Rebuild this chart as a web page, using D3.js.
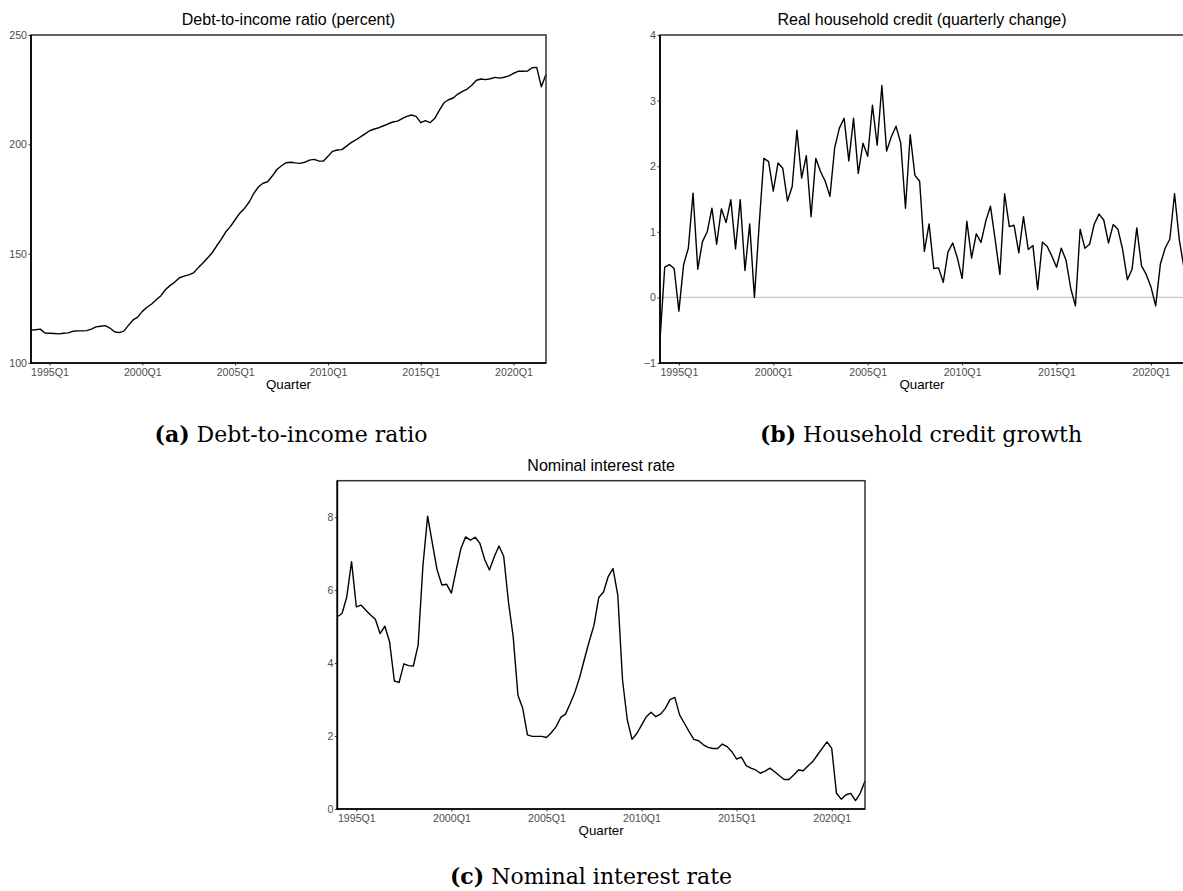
<!DOCTYPE html>
<html>
<head>
<meta charset="utf-8">
<script src="https://cdn.jsdelivr.net/npm/d3@7"></script>
<style>
  body { margin: 0; background: #fff; }
  svg { display: block; }
  .tick text { font-family: "Liberation Sans", Arial, sans-serif; }
</style>
</head>
<body>
<svg id="chart" width="1183" height="891"></svg>
<script>
// ---------- data ----------
const quarters = [];
for (let y = 1994; y <= 2021; y++) for (let q = 1; q <= 4; q++) quarters.push(y + "Q" + q);

const xTickLabels = ["1995Q1", "2000Q1", "2005Q1", "2010Q1", "2015Q1", "2020Q1"];

const debtToIncome = [
  115.1,115.2,115.5,113.7,113.6,113.5,113.3,113.6,113.8,114.5,
  114.7,114.7,114.8,115.5,116.5,116.8,117.1,116.0,114.3,113.9,
  114.6,117.2,119.7,121.0,123.6,125.5,127.0,128.9,130.8,133.6,
  135.5,137.0,139.0,139.7,140.3,141.2,143.5,145.6,147.9,150.3,
  153.5,156.5,160.0,162.5,165.5,168.5,170.7,173.5,177.5,180.5,
  182.2,182.9,185.5,188.5,190.2,191.6,191.8,191.5,191.3,191.8,
  192.8,193.1,192.4,192.3,194.5,196.8,197.4,197.6,199.2,200.8,
  202.0,203.4,204.8,206.2,207.0,207.6,208.5,209.4,210.2,210.6,
  211.8,212.8,213.4,212.8,209.9,210.8,209.9,211.8,215.5,219.0,
  220.4,221.2,223.0,224.2,225.3,227.0,229.3,229.9,229.6,230.0,
  230.6,230.3,230.7,231.3,232.5,233.4,233.4,233.5,235.0,235.2,
  226.3,232.1
];

const creditGrowth = [
  -0.65,0.46,0.50,0.44,-0.21,0.50,0.75,1.59,0.43,0.85,
  1.00,1.36,0.81,1.35,1.14,1.49,0.74,1.49,0.41,1.12,
  0.00,1.10,2.12,2.07,1.62,2.05,1.97,1.47,1.69,2.55,
  1.82,2.16,1.23,2.12,1.92,1.77,1.54,2.28,2.58,2.73,
  2.08,2.73,1.89,2.35,2.15,2.93,2.32,3.23,2.23,2.45,
  2.61,2.35,1.36,2.48,1.86,1.77,0.70,1.12,0.44,0.45,
  0.23,0.69,0.83,0.60,0.29,1.16,0.60,0.97,0.84,1.16,
  1.39,0.88,0.35,1.58,1.08,1.10,0.68,1.23,0.73,0.79,
  0.12,0.84,0.78,0.63,0.46,0.75,0.57,0.14,-0.13,1.04,
  0.75,0.81,1.12,1.27,1.18,0.83,1.11,1.04,0.73,0.27,
  0.43,1.06,0.48,0.35,0.16,-0.13,0.51,0.75,0.89,1.58,
  0.88,0.45
];

const interestRate = [
  5.27,5.36,5.82,6.78,5.54,5.59,5.45,5.32,5.20,4.81,
  5.01,4.58,3.51,3.47,3.98,3.93,3.92,4.49,6.65,8.03,
  7.28,6.55,6.14,6.16,5.92,6.55,7.14,7.46,7.37,7.45,
  7.28,6.84,6.55,6.91,7.21,6.93,5.68,4.72,3.12,2.76,
  2.03,1.99,1.99,1.99,1.96,2.09,2.25,2.51,2.60,2.89,
  3.21,3.62,4.12,4.60,5.04,5.80,5.95,6.38,6.59,5.86,
  3.53,2.44,1.91,2.07,2.30,2.53,2.65,2.53,2.60,2.76,
  3.00,3.06,2.58,2.35,2.12,1.91,1.87,1.76,1.69,1.66,
  1.66,1.78,1.71,1.57,1.37,1.42,1.19,1.12,1.07,0.98,
  1.04,1.12,1.02,0.91,0.81,0.81,0.93,1.07,1.05,1.18,
  1.30,1.48,1.66,1.84,1.66,0.43,0.27,0.39,0.43,0.23,
  0.43,0.77
];

const yTicksA = [100, 150, 200, 250];
const yTicksB = [-1, 0, 1, 2, 3, 4];
const yTicksC = [0, 2, 4, 6, 8];

const titles = ["Debt-to-income ratio (percent)", "Real household credit (quarterly change)", "Nominal interest rate"];
const captionTags = ["(a)", "(b)", "(c)"];
const captionTexts = ["Debt-to-income ratio", "Household credit growth", "Nominal interest rate"];
const xAxisTitle = "Quarter";

// ---------- drawing ----------
const svg = d3.select("#chart");
svg.append("rect").attr("width", 1183).attr("height", 891).attr("fill", "#fff");

const SANS = '"Liberation Sans", Arial, sans-serif';

function panel(cfg) {
  const { left, top, right, bottom, values, yDomain, yTicks, title, zeroLine } = cfg;
  const x = d3.scalePoint().domain(quarters).range([left, right]).padding(0);
  const y = d3.scaleLinear().domain(yDomain).range([bottom, top]);
  const g = svg.append("g");

  if (zeroLine) {
    g.append("line")
      .attr("x1", left).attr("x2", right)
      .attr("y1", y(0)).attr("y2", y(0))
      .attr("stroke", "#c8c8c8").attr("stroke-width", 1.3);
  }

  const line = d3.line().x((d, i) => x(quarters[i])).y(d => y(d));
  g.append("path").datum(values)
    .attr("d", line)
    .attr("fill", "none")
    .attr("stroke", "#000")
    .attr("stroke-width", 1.4)
    .attr("stroke-linejoin", "round");

  // border
  g.append("rect")
    .attr("x", left).attr("y", top)
    .attr("width", right - left).attr("height", bottom - top)
    .attr("fill", "none").attr("stroke", "#333").attr("stroke-width", 1.5);

  // axes
  const xAxis = d3.axisBottom(x).tickValues(xTickLabels).tickSize(2.5).tickPadding(2.5);
  const gx = g.append("g").attr("transform", `translate(0,${bottom})`).call(xAxis);
  const yAxis = d3.axisLeft(y).tickValues(yTicks).tickFormat(d3.format("d")).tickSize(2.5).tickPadding(1.5);
  const gy = g.append("g").attr("transform", `translate(${left},0)`).call(yAxis);
  [gx, gy].forEach(a => {
    a.select(".domain").remove();
    a.selectAll(".tick line").attr("stroke", "#333");
    a.selectAll(".tick text").attr("fill", "#4d4d4d").style("font-size", "10.65px").style("font-family", SANS);
  });

  // left/bottom axis lines
  g.append("line").attr("x1", left).attr("x2", left).attr("y1", top).attr("y2", bottom + 0.8)
    .attr("stroke", "#000").attr("stroke-width", 1.7);
  g.append("line").attr("x1", left - 0.8).attr("x2", right).attr("y1", bottom).attr("y2", bottom)
    .attr("stroke", "#000").attr("stroke-width", 1.7);

  const cx = (left + right) / 2;
  g.append("text").attr("x", cx).attr("y", top - 10)
    .attr("text-anchor", "middle").style("font-family", SANS).style("font-size", "16px")
    .attr("fill", "#000").text(title);
  g.append("text").attr("x", cx).attr("y", bottom + 26)
    .attr("text-anchor", "middle").style("font-family", SANS).style("font-size", "13.3px")
    .attr("fill", "#000").text(xAxisTitle);
}

panel({ left: 31, top: 35, right: 546, bottom: 363, values: debtToIncome, yDomain: [100, 250], yTicks: yTicksA, title: titles[0] });
panel({ left: 660, top: 35, right: 1184, bottom: 363, values: creditGrowth, yDomain: [-1, 4], yTicks: yTicksB, title: titles[1], zeroLine: true });
panel({ left: 337.3, top: 480.7, right: 865, bottom: 809, values: interestRate, yDomain: [0, 9], yTicks: yTicksC, title: titles[2] });

// captions
const captionPos = [[291, 442], [921, 442], [591, 884]];
captionPos.forEach((p, i) => {
  const t = svg.append("text").attr("x", p[0]).attr("y", p[1])
    .attr("text-anchor", "middle")
    .style("font-family", '"DejaVu Serif", "Liberation Serif", serif')
    .style("font-size", "22px").attr("fill", "#000");
  t.append("tspan").style("font-weight", "bold").text(captionTags[i]);
  t.append("tspan").text(" " + captionTexts[i]);
});
</script>
</body>
</html>
